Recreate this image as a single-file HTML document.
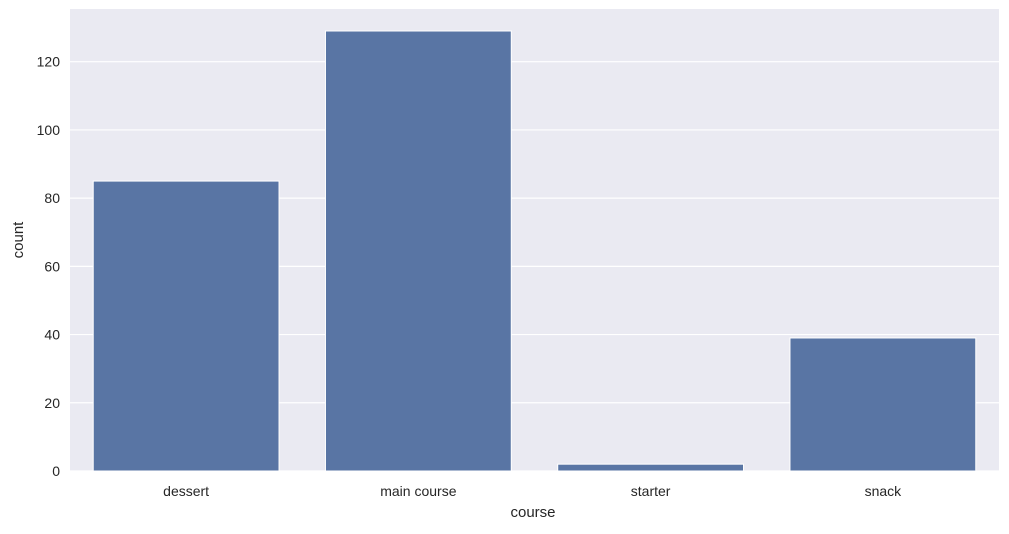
<!DOCTYPE html>
<html><head><meta charset="utf-8"><style>
body{margin:0;background:#fff;}
svg text{font-family:"Liberation Sans","DejaVu Sans",sans-serif;fill:#262626;}
</style></head><body>
<svg id="chart" width="1009" height="529">
<rect x="70" y="9" width="929" height="462" fill="#eaeaf2"/>
<g id="grid"></g><g id="bars"></g><g id="yticks"></g><g id="xticks"></g>
<text x="533" y="517" text-anchor="middle" font-size="15">course</text>
<text transform="translate(23,240) rotate(-90)" text-anchor="middle" font-size="15">count</text>
</svg>
<script>
const categories=["dessert","main course","starter","snack"];
const counts=[85,129,2,39];
const yTicks=[0,20,40,60,80,100,120];
const L=70,R=999,T=9,B=471;
const ymax=Math.max(...counts)*1.05;
const y=v=>B-(v/ymax)*(B-T);
const band=(R-L)/categories.length;
const xc=i=>L+band*(i+0.5);
const NS="http://www.w3.org/2000/svg";
function mk(t,a,p){const e=document.createElementNS(NS,t);for(const k in a)e.setAttribute(k,a[k]);document.getElementById(p).appendChild(e);return e;}
yTicks.forEach(v=>{
 const g=mk("line",{x1:L,x2:R,y1:y(v),y2:y(v),stroke:"#fff","stroke-width":1.2},"grid");
 
 
 const t=mk("text",{x:L-10,y:y(v)+5,"text-anchor":"end","font-size":14},"yticks");
 t.textContent=v;
 
 
});
categories.forEach((c,i)=>{
 const w=band*0.8;
 const b=mk("rect",{x:xc(i)-w/2,y:y(counts[i]),width:w,height:B-y(counts[i]),fill:"#5975a4",stroke:"#fff","stroke-width":1},"bars");
 
 
 const t=mk("text",{x:xc(i),y:B+25,"text-anchor":"middle","font-size":14},"xticks");
 t.textContent=c;
 
 
});
</script>
</body></html>
